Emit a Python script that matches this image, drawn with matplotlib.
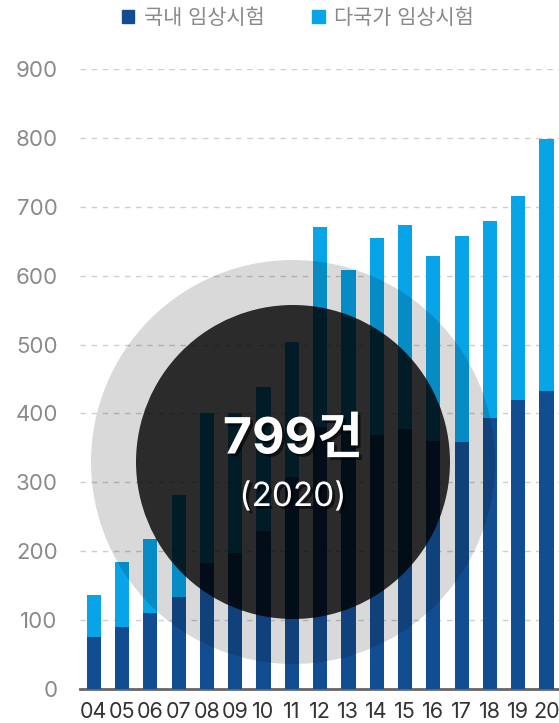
import matplotlib
matplotlib.use('Agg')
import matplotlib.pyplot as plt
import matplotlib.patches as mpatches
import matplotlib.patheffects as pe
import numpy as np

# data
years = ['04', '05', '06', '07', '08', '09', '10', '11', '12',
         '13', '14', '15', '16', '17', '18', '19', '20']
domestic = [75, 90, 110, 134, 183, 198, 229, 308, 380,
            378, 368, 378, 360, 359, 393, 419, 432]
multinational = [62, 95, 108, 148, 217, 202, 210, 195, 290,
                 230, 286, 296, 268, 299, 286, 296, 367]
y_ticks = [0, 100, 200, 300, 400, 500, 600, 700, 800, 900]
series_labels = ['국내 임상시험', '다국가 임상시험']
highlight_value = '799건'
highlight_year = '(2020)'

dark_blue = '#134d91'
light_blue = '#08a4e8'

# Latin digits in Inter, Hangul falls back to Noto Sans CJK KR
plt.rcParams['font.family'] = ['Inter', 'Noto Sans CJK KR', 'DejaVu Sans']

W, H = 559, 723
fig = plt.figure(figsize=(W / 100, H / 100), dpi=100)
# axes in pixel terms: left 80, right 559, bottom y=689, top y=69
ax = fig.add_axes([80 / W, (H - 689) / H, (W - 80) / W, (689 - 69) / H])

x = np.arange(len(years))
ax.bar(x, domestic, width=0.5, color=dark_blue, zorder=2)
ax.bar(x, multinational, width=0.5, bottom=domestic, color=light_blue, zorder=2)

ax.set_xlim(-0.484, 16.44)
ax.set_ylim(0, 900)
ax.set_yticks(y_ticks)
ax.set_xticks(x)
ax.set_xticklabels(years)
ax.tick_params(axis='y', length=0, pad=16, labelsize=16, labelcolor='#8a8a8a')
ax.tick_params(axis='x', length=0, pad=9, labelsize=15.5, labelcolor='#333333')
ax.yaxis.grid(True, linestyle=(0, (4, 4)), color='#cfcfcf', linewidth=1, zorder=0)
ax.set_axisbelow(True)
for s in ['top', 'right', 'left']:
    ax.spines[s].set_visible(False)
ax.spines['bottom'].set_color('#666666')
ax.spines['bottom'].set_linewidth(2)
ax.spines['bottom'].set_zorder(1)

# highlight circles (drawn in inch coordinates so they stay round)
cx, cy = 2.93, (H - 462) / 100
outer = mpatches.Circle((cx, cy), 2.02, transform=fig.dpi_scale_trans,
                        facecolor='black', alpha=0.15, edgecolor='none', zorder=3)
inner = mpatches.Circle((cx, cy), 1.57, transform=fig.dpi_scale_trans,
                        facecolor='black', alpha=0.8, edgecolor='none', zorder=4)
ax.add_patch(outer)
ax.add_patch(inner)
outer.set_clip_on(False)
inner.set_clip_on(False)

shadow = [pe.withSimplePatchShadow(offset=(2, -2), shadow_rgbFace='black', alpha=0.6)]
fig.text(293 / W, (H - 440) / H, highlight_value, color='white', fontsize=36,
         fontweight='bold', ha='center', va='center', zorder=5, path_effects=shadow)
fig.text(293 / W, (H - 497) / H, highlight_year, color='white', fontsize=24,
         ha='center', va='center', zorder=5, path_effects=shadow)

handles = [mpatches.Patch(color=dark_blue), mpatches.Patch(color=light_blue)]
leg = fig.legend(handles, series_labels, loc='upper center', bbox_to_anchor=(0.533, 1.015),
                 ncol=2, frameon=False, fontsize=15, handlelength=0.6, handleheight=0.6,
                 handletextpad=0.45, columnspacing=2.3)
for t in leg.get_texts():
    t.set_color('#8a8a8a')

plt.savefig('out.png', dpi=100)
